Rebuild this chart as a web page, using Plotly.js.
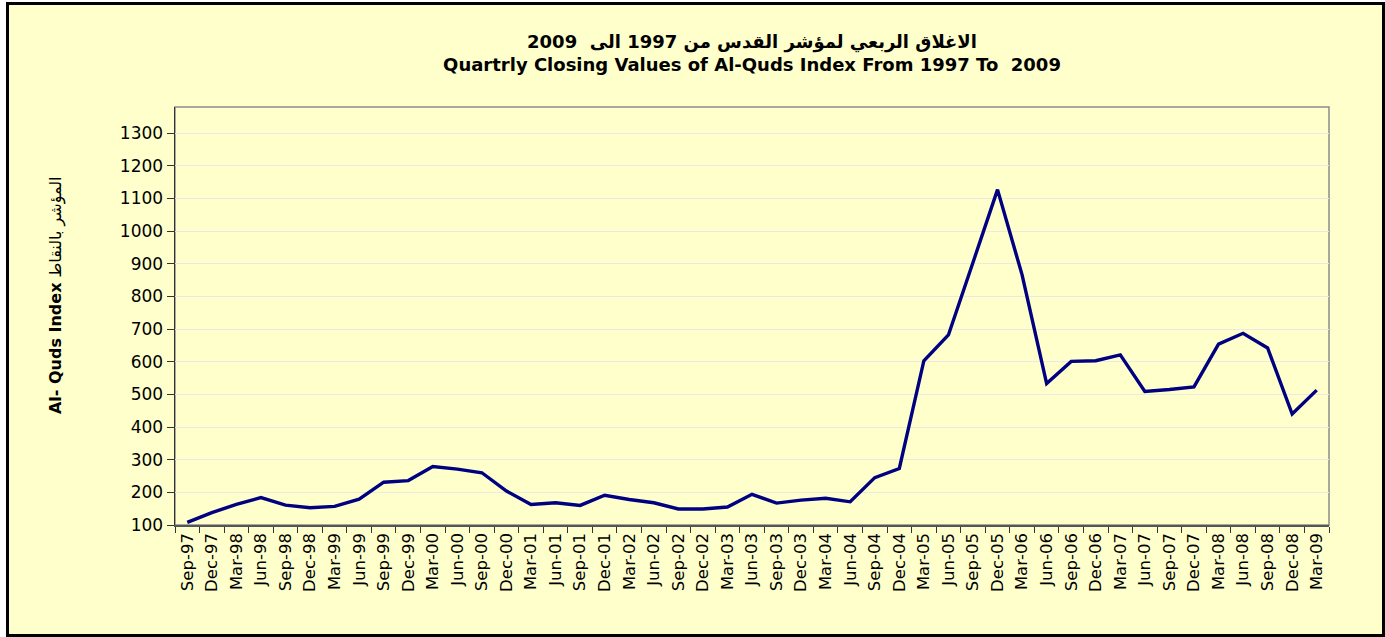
<!DOCTYPE html>
<html>
<head>
<meta charset="utf-8">
<script src="https://cdn.plot.ly/plotly-3.0.1.min.js"></script>
<style>
  html, body { margin: 0; padding: 0; background: #ffffff; width: 1385px; height: 637px; overflow: hidden; }
  #frame { position: absolute; left: 6px; top: 2px; width: 1373px; height: 629px; border: 3px solid #000; background: #FFFFCC; }
  #chart { width: 1373px; height: 629px; }
</style>
</head>
<body>
<div id="frame"><div id="chart"></div></div>
<script>
const quarters = ["Sep-97","Dec-97","Mar-98","Jun-98","Sep-98","Dec-98","Mar-99","Jun-99","Sep-99","Dec-99",
  "Mar-00","Jun-00","Sep-00","Dec-00","Mar-01","Jun-01","Sep-01","Dec-01","Mar-02","Jun-02",
  "Sep-02","Dec-02","Mar-03","Jun-03","Sep-03","Dec-03","Mar-04","Jun-04","Sep-04","Dec-04",
  "Mar-05","Jun-05","Sep-05","Dec-05","Mar-06","Jun-06","Sep-06","Dec-06","Mar-07","Jun-07",
  "Sep-07","Dec-07","Mar-08","Jun-08","Sep-08","Dec-08","Mar-09"];
const closingValues = [108,138,163,184,161,153,157,179,231,236,
  279,271,260,204,163,168,160,191,178,168,
  149,149,155,194,167,176,182,171,245,273,
  603,682,904,1127,866,533,601,603,621,509,
  515,523,654,687,642,440,513];
const titleArabic = "الاغلاق الربعي لمؤشر القدس من 1997 الى\u00a0 2009";
const titleEnglish = "Quartrly Closing Values of Al-Quds Index From 1997 To\u00a0 2009";
const yTitleEnglish = "Al- Quds Index";
const yTitleArabic = "المؤشر بالنقاط";
const yTickVals = [100,200,300,400,500,600,700,800,900,1000,1100,1200,1300];

const trace = {
  type: "scatter",
  mode: "lines",
  x: quarters,
  y: closingValues,
  line: { color: "#000080", width: 3.4 },
  hoverinfo: "x+y",
  showlegend: false
};

const layout = {
  width: 1373,
  height: 629,
  paper_bgcolor: "#FFFFCC",
  plot_bgcolor: "#FFFFCC",
  margin: { l: 166, r: 53, t: 102, b: 109, pad: 0 },
  font: { family: "DejaVu Sans, Arial, sans-serif", color: "#000" },
  title: {
    text: "<b>" + titleArabic + "<br>" + titleEnglish + "</b>",
    font: { family: "DejaVu Sans, Arial, sans-serif", size: 18, color: "#000" },
    xref: "paper",
    x: 0.5,
    xanchor: "center",
    yref: "container",
    y: 0.932,
    yanchor: "middle"
  },
  xaxis: {
    type: "category",
    tickmode: "array",
    tickvals: quarters,
    ticktext: quarters,
    tickangle: -90,
    tickson: "boundaries",
    ticks: "outside",
    ticklen: 6,
    tickwidth: 1,
    tickcolor: "#333",
    tickfont: { family: "DejaVu Sans, Arial, sans-serif", size: 16.5, color: "#000" },
    showline: true,
    linecolor: "#555",
    linewidth: 1.5,
    showgrid: false,
    zeroline: false,
    range: [-0.5, quarters.length - 0.5],
    fixedrange: true
  },
  yaxis: {
    range: [100, 1380],
    tickmode: "array",
    tickvals: yTickVals,
    ticks: "outside",
    ticklen: 7,
    tickwidth: 1,
    tickcolor: "#333",
    tickfont: { family: "DejaVu Sans, Arial, sans-serif", size: 17, color: "#000" },
    showline: true,
    linecolor: "#333",
    linewidth: 1.5,
    showgrid: true,
    gridcolor: "#ECE8E4",
    gridwidth: 1,
    zeroline: false,
    fixedrange: true
  },
  shapes: [{
    type: "rect", xref: "paper", yref: "paper", x0: 0, x1: 1, y0: 0, y1: 1,
    line: { color: "#8c8c8c", width: 1.5 }, layer: "below"
  }],
  annotations: [{
    text: "<b>" + yTitleEnglish + "</b> " + yTitleArabic,
    textangle: -90,
    xref: "paper", yref: "paper",
    x: -0.1031, y: 0.55,
    xanchor: "center", yanchor: "middle",
    showarrow: false,
    font: { family: "DejaVu Sans, Arial, sans-serif", size: 16, color: "#000" }
  }]
};

Plotly.newPlot("chart", [trace], layout, { displayModeBar: false, staticPlot: true });
</script>
</body>
</html>
